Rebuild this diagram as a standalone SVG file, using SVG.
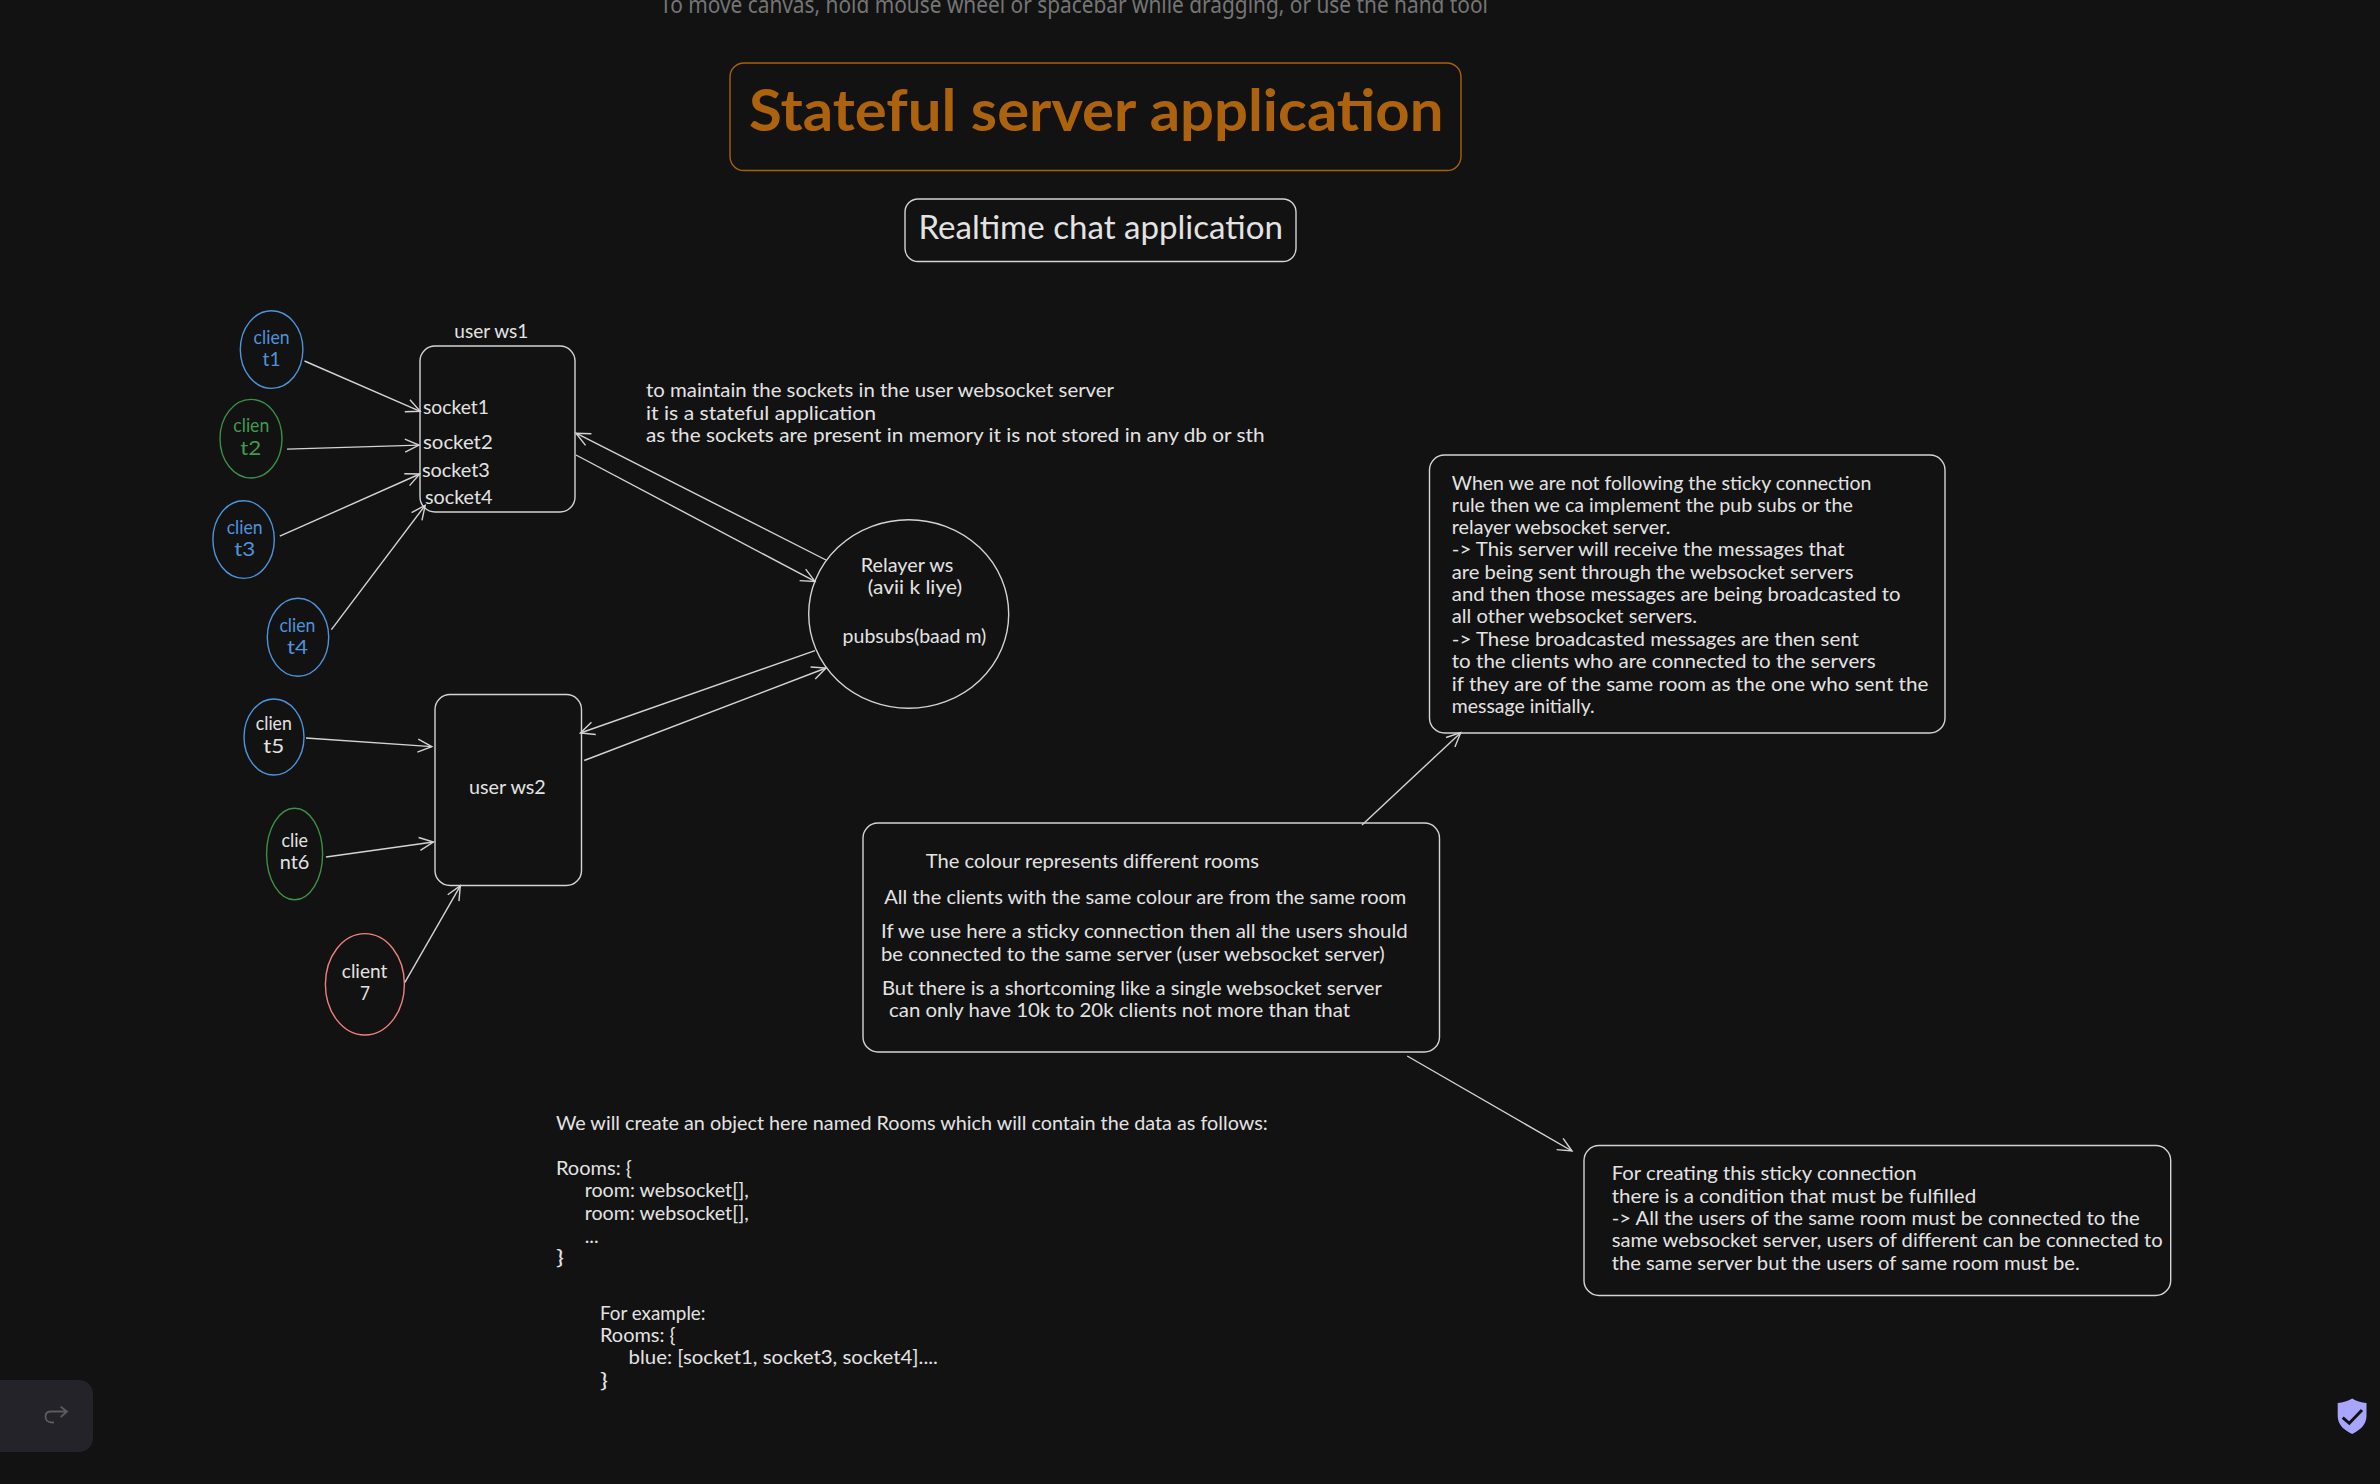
<svg xmlns="http://www.w3.org/2000/svg" width="2380" height="1484" viewBox="0 0 2380 1484">
<style>
text{font-family:"Lato","Open Sans",sans-serif;font-size:19px;fill:#e3e3e3;white-space:pre}
.shape{fill:none;stroke:#d4d4d4;stroke-width:1.4}
.blue{stroke:#4f93dc}.green{stroke:#3b8f47}.red{stroke:#f07f7f}
.tb{fill:#4f93dc}.tg{fill:#3f9c4f}
.conn path{fill:none;stroke:#d4d4d4;stroke-width:1.4;marker-end:url(#arr)}
.conn path.head{marker-end:none}
</style>
<defs>
<marker id="arr" markerUnits="userSpaceOnUse" markerWidth="22" markerHeight="22" refX="15" refY="11" orient="auto"><path d="M1,4.5 L15,11 L1,17.5" fill="none" stroke="#d4d4d4" stroke-width="1.4"/></marker>
</defs>
<rect width="2380" height="1484" fill="#121212"/>
<text x="660" y="13" textLength="828" lengthAdjust="spacingAndGlyphs" style="font-family:'Noto Sans',sans-serif;font-size:23px;fill:#757575">To move canvas, hold mouse wheel or spacebar while dragging, or use the hand tool</text>

<g id="title"><rect class="shape" style="stroke:#a8600f" x="730" y="63" width="731" height="107.500" rx="14"/><text x="749" y="131" textLength="694.500" lengthAdjust="spacingAndGlyphs" style="font-size:58px;font-weight:700;fill:#ad620d">Stateful server application</text></g>
<g id="subtitle"><rect class="shape" x="905" y="199" width="391" height="62.500" rx="13"/><text x="918.400" y="238.500" textLength="364.500" lengthAdjust="spacingAndGlyphs" style="font-size:32px">Realtime chat application</text></g>

<g id="client1"><ellipse class="shape blue" cx="271.600" cy="349.600" rx="31.300" ry="38.800"/><text class="tb" x="253.600" y="343.700" textLength="36" lengthAdjust="spacingAndGlyphs">clien</text><text class="tb" x="262.600" y="365.500" textLength="18" lengthAdjust="spacingAndGlyphs">t1</text></g>
<g id="client2"><ellipse class="shape green" cx="251" cy="438.700" rx="31" ry="39.300"/><text class="tg" x="233.300" y="431.700" textLength="36" lengthAdjust="spacingAndGlyphs">clien</text><text class="tg" x="240.300" y="455" textLength="21" lengthAdjust="spacingAndGlyphs">t2</text></g>
<g id="client3"><ellipse class="shape blue" cx="243.600" cy="539.600" rx="30.700" ry="38.800"/><text class="tb" x="226.700" y="533.700" textLength="36" lengthAdjust="spacingAndGlyphs">clien</text><text class="tb" x="234.200" y="556" textLength="21" lengthAdjust="spacingAndGlyphs">t3</text></g>
<g id="client4"><ellipse class="shape blue" cx="298" cy="637.300" rx="30.700" ry="39"/><text class="tb" x="279.400" y="631.700" textLength="36" lengthAdjust="spacingAndGlyphs">clien</text><text class="tb" x="286.900" y="654" textLength="21" lengthAdjust="spacingAndGlyphs">t4</text></g>
<g id="client5"><ellipse class="shape blue" cx="274" cy="737" rx="30" ry="38"/><text x="255.800" y="730" textLength="36" lengthAdjust="spacingAndGlyphs">clien</text><text x="263.300" y="752.500" textLength="21" lengthAdjust="spacingAndGlyphs">t5</text></g>
<g id="client6"><ellipse class="shape green" cx="294.600" cy="854" rx="28" ry="45.800"/><text x="281.400" y="847" textLength="26.500" lengthAdjust="spacingAndGlyphs">clie</text><text x="279.800" y="869.400" textLength="29.600" lengthAdjust="spacingAndGlyphs">nt6</text></g>
<g id="client7"><ellipse class="shape red" cx="364.900" cy="984.300" rx="39.500" ry="50.700"/><text x="341.800" y="977.800" textLength="45.500" lengthAdjust="spacingAndGlyphs">client</text><text x="360" y="1000" textLength="10" lengthAdjust="spacingAndGlyphs">7</text></g>

<g id="ws1"><text x="454.300" y="337.700" textLength="74" lengthAdjust="spacingAndGlyphs">user ws1</text><rect class="shape" x="420" y="346" width="155" height="166" rx="15"/>
<text x="423" y="414.300" textLength="65.800" lengthAdjust="spacingAndGlyphs">socket1</text><text x="423" y="449" textLength="69.700" lengthAdjust="spacingAndGlyphs">socket2</text><text x="421.900" y="477" textLength="68" lengthAdjust="spacingAndGlyphs">socket3</text><text x="425" y="503.800" textLength="67.500" lengthAdjust="spacingAndGlyphs">socket4</text></g>
<g id="ws2"><rect class="shape" x="435" y="694.500" width="146.500" height="191" rx="15"/><text x="469" y="793.800" textLength="76.800" lengthAdjust="spacingAndGlyphs">user ws2</text></g>
<g id="relayer"><ellipse class="shape" cx="908.700" cy="614" rx="100" ry="94.300"/><text x="860.700" y="572" textLength="92.700" lengthAdjust="spacingAndGlyphs">Relayer ws</text><text x="867.800" y="594.300" textLength="94.300" lengthAdjust="spacingAndGlyphs">(avii k liye)</text><text x="842.600" y="643" textLength="143.700" lengthAdjust="spacingAndGlyphs">pubsubs(baad m)</text></g>

<g id="note-memory"><text x="646" y="397.300" textLength="468" lengthAdjust="spacingAndGlyphs">to maintain the sockets in the user websocket server</text><text x="646" y="420" textLength="230" lengthAdjust="spacingAndGlyphs">it is a stateful application</text><text x="646" y="442.300" textLength="618.500" lengthAdjust="spacingAndGlyphs">as the sockets are present in memory it is not stored in any db or sth</text></g>

<g id="note-relayer"><rect class="shape" x="1429.500" y="455" width="515.500" height="278" rx="15"/>
<text x="1451.800" y="489.500" textLength="419.600" lengthAdjust="spacingAndGlyphs">When we are not following the sticky connection</text>
<text x="1451.800" y="511.800" textLength="401" lengthAdjust="spacingAndGlyphs">rule then we ca implement the pub subs or the</text>
<text x="1451.800" y="534" textLength="218.500" lengthAdjust="spacingAndGlyphs">relayer websocket server.</text>
<text x="1451.800" y="556.400" textLength="392.800" lengthAdjust="spacingAndGlyphs">-&gt; This server will receive the messages that</text>
<text x="1451.800" y="579" textLength="401.700" lengthAdjust="spacingAndGlyphs">are being sent through the websocket servers</text>
<text x="1451.800" y="601.300" textLength="448.800" lengthAdjust="spacingAndGlyphs">and then those messages are being broadcasted to</text>
<text x="1451.800" y="623.300" textLength="245.300" lengthAdjust="spacingAndGlyphs">all other websocket servers.</text>
<text x="1451.800" y="645.700" textLength="407" lengthAdjust="spacingAndGlyphs">-&gt; These broadcasted messages are then sent</text>
<text x="1451.800" y="668" textLength="423.800" lengthAdjust="spacingAndGlyphs">to the clients who are connected to the servers</text>
<text x="1451.800" y="691" textLength="476.600" lengthAdjust="spacingAndGlyphs">if they are of the same room as the one who sent the</text>
<text x="1451.800" y="713.300" textLength="142.800" lengthAdjust="spacingAndGlyphs">message initially.</text></g>

<g id="note-colour"><rect class="shape" x="863" y="823" width="576.500" height="229" rx="15"/>
<text x="925.800" y="868.300" textLength="333.300" lengthAdjust="spacingAndGlyphs">The colour represents different rooms</text>
<text x="884.300" y="904.300" textLength="522" lengthAdjust="spacingAndGlyphs">All the clients with the same colour are from the same room</text>
<text x="881" y="937.700" textLength="526.700" lengthAdjust="spacingAndGlyphs">If we use here a sticky connection then all the users should</text>
<text x="881" y="960.700" textLength="503.700" lengthAdjust="spacingAndGlyphs">be connected to the same server (user websocket server)</text>
<text x="882" y="994.700" textLength="499.800" lengthAdjust="spacingAndGlyphs">But there is a shortcoming like a single websocket server</text>
<text x="889" y="1017.300" textLength="461" lengthAdjust="spacingAndGlyphs">can only have 10k to 20k clients not more than that</text></g>

<g id="note-sticky"><rect class="shape" x="1584" y="1145.500" width="586.700" height="150" rx="15"/>
<text x="1611.700" y="1180" textLength="304.900" lengthAdjust="spacingAndGlyphs">For creating this sticky connection</text>
<text x="1611.700" y="1202.700" textLength="364.500" lengthAdjust="spacingAndGlyphs">there is a condition that must be fulfilled</text>
<text x="1611.700" y="1225" textLength="528" lengthAdjust="spacingAndGlyphs">-&gt; All the users of the same room must be connected to the</text>
<text x="1611.700" y="1247.300" textLength="551" lengthAdjust="spacingAndGlyphs">same websocket server, users of different can be connected to</text>
<text x="1611.700" y="1270" textLength="468" lengthAdjust="spacingAndGlyphs">the same server but the users of same room must be.</text></g>

<g id="note-rooms">
<text x="555.900" y="1130" textLength="711.800" lengthAdjust="spacingAndGlyphs">We will create an object here named Rooms which will contain the data as follows:</text>
<text x="555.900" y="1175" textLength="76" lengthAdjust="spacingAndGlyphs">Rooms: {</text>
<text x="584.700" y="1197.300" textLength="164" lengthAdjust="spacingAndGlyphs">room: websocket[],</text>
<text x="584.700" y="1220.300" textLength="164" lengthAdjust="spacingAndGlyphs">room: websocket[],</text>
<text x="584.700" y="1242.700" textLength="14" lengthAdjust="spacingAndGlyphs">...</text>
<text x="555.900" y="1264" textLength="8" lengthAdjust="spacingAndGlyphs">}</text>
</g>
<g id="note-example">
<text x="600" y="1320" textLength="105.500" lengthAdjust="spacingAndGlyphs">For example:</text>
<text x="600" y="1341.700" textLength="75.600" lengthAdjust="spacingAndGlyphs">Rooms: {</text>
<text x="628.500" y="1364" textLength="309.400" lengthAdjust="spacingAndGlyphs">blue: [socket1, socket3, socket4]....</text>
<text x="600" y="1386.700" textLength="8" lengthAdjust="spacingAndGlyphs">}</text>
</g>

<g id="connectors" class="conn">
<path d="M304.500,361 L420.200,411.300"/>
<path d="M287,449.100 L419,445.100"/>
<path d="M279.800,536.200 L419.700,474"/>
<path d="M331.400,629.700 L425.200,505.300"/>
<path d="M826,560 L576,433.200"/>
<path d="M576,455 L815,581.400"/>
<path d="M815,650.600 L580.400,733"/>
<path d="M584.200,760.500 L826,668"/>
<path d="M306,738 L431.800,746.600"/>
<path d="M326,857 L433.400,842"/>
<path d="M404.900,982.300 L460.300,885.800"/>
<path d="M1362,825 L1460.700,732.700"/>
<path d="M1407.200,1056 L1572,1151"/>
</g>

<g id="toolbar"><path d="M0,1380 H79 a14,14 0 0 1 14,14 V1438 a14,14 0 0 1 -14,14 H0 Z" fill="#232329"/>
<path d="M54,1422.500 H52 C47.500,1422.500 45.500,1419.500 45.500,1416.500 C45.500,1413 48,1411.500 51,1411.500 H67 M60.700,1406.700 L67,1411.500 L60.700,1417" fill="none" stroke="#5c5c5c" stroke-width="1.800"/></g>
<g id="shield"><path d="M2352.200,1398.500 C2356,1401 2361,1402.500 2366.500,1403 V1416 C2366.500,1426 2358,1431 2352.200,1434 C2346,1431 2337.700,1426 2337.700,1416 V1403 C2343,1402.500 2348,1401 2352.200,1398.500 Z" fill="#a8a5ff"/><path d="M2342.700,1417.700 L2349.300,1423.300 L2362,1410" fill="none" stroke="#121212" stroke-width="3"/></g>
</svg>
